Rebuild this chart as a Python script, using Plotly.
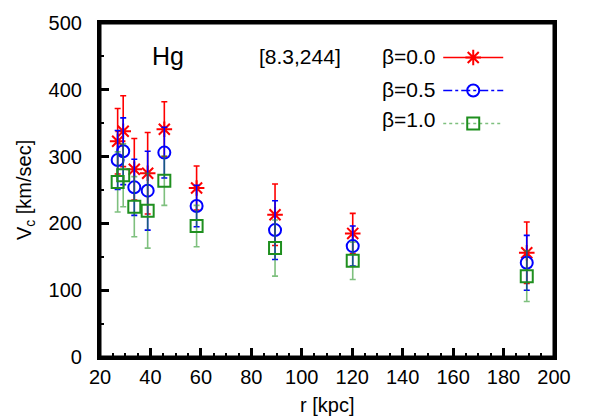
import plotly.graph_objects as go

# radius of each tracer bin [kpc]
r_kpc = [27.0, 29.2, 33.6, 38.9, 45.5, 58.3, 89.4, 120.2, 189.2]

# circular velocity for three anisotropy values [km/sec]
vc_b00 = [323, 338, 281, 275, 341, 253, 213, 185, 156]
err_b00 = [49, 53, 46, 61, 41, 33, 46, 30, 46]

vc_b05 = [295, 308, 254, 249, 306, 226, 190, 166, 141]
err_b05 = [44, 50, 42, 59, 38, 31, 44, 30, 41]

vc_b10 = [262, 272, 225, 219, 264, 196, 163, 144, 121]
err_b10 = [45, 47, 45, 56, 37, 31, 42, 28, 38]

labels = ["β=0.0", "β=0.5", "β=1.0"]

FONT = "Liberation Sans"

fig = go.Figure()

series = [
    (vc_b00, err_b00, "#ff0000", "#ff0000", "asterisk-open", 13, "solid"),
    (vc_b05, err_b05, "#0000ff", "#0000ff", "circle-open", 12, "dashdot"),
    (vc_b10, err_b10, "#1f8f1f", "rgba(40,150,40,0.6)", "square-open", 12, "dot"),
]

for i, ((vals, errs, col, ecol, sym, size, dash), name) in enumerate(zip(series, labels)):
    fig.add_trace(go.Scatter(
        x=r_kpc, y=vals, name=name, mode="markers", showlegend=False,
        marker=dict(symbol=sym, size=size, color=col,
                    line=dict(color=col, width=2)),
        error_y=dict(type="data", array=errs, visible=True,
                     color=ecol, thickness=1.6, width=3),
    ))
    # legend-only entry: line sample with marker, text drawn separately on the left
    fig.add_trace(go.Scatter(
        x=[None], y=[None], name=" ", mode="lines+markers",
        legendgroup=f"g{i}",
        line=dict(color=ecol, width=1.6, dash=dash),
        marker=dict(symbol=sym, size=size, color=col,
                    line=dict(color=col, width=2)),
    ))
    fig.add_annotation(text=name, xref="paper", yref="paper",
                       x=0.745, y=[0.901, 0.802, 0.710][i],
                       showarrow=False, xanchor="right", yanchor="middle",
                       font=dict(size=21, family=FONT, color="black"))

# page body adds an 8px offset, so the figure is a little smaller than the window
fig.update_layout(
    width=590, height=411,
    margin=dict(l=92, r=44, t=15, b=62, autoexpand=False),
    plot_bgcolor="white",
    font=dict(size=20, family=FONT, color="black"),
    showlegend=True,
    legend=dict(x=0.745, y=0.955, xanchor="left", yanchor="top",
                bgcolor="rgba(0,0,0,0)", font=dict(size=20),
                itemwidth=60, tracegroupgap=4),
)

fig.update_xaxes(
    range=[20, 200], dtick=20, tick0=20, automargin=False,
    showline=True, linecolor="black", linewidth=3, mirror=True,
    ticks="inside", ticklen=9, tickwidth=3, tickcolor="black",
    minor=dict(dtick=5, ticks="inside", ticklen=4, tickwidth=2, tickcolor="black"),
    gridcolor="rgba(0,0,0,0)",
)
fig.update_yaxes(
    range=[0, 500], dtick=100, automargin=False,
    showline=True, linecolor="black", linewidth=3, mirror=True,
    ticks="inside", ticklen=9, tickwidth=3, tickcolor="black",
    minor=dict(dtick=50, ticks="inside", ticklen=4, tickwidth=2, tickcolor="black"),
    gridcolor="rgba(0,0,0,0)", zerolinecolor="black", zerolinewidth=3,
    ticksuffix="  ",
)

# frame around the plotting area
fig.add_shape(type="rect", xref="paper", yref="paper", x0=0, y0=0, x1=1, y1=1,
              line=dict(color="black", width=3), layer="above")

# axis titles as text
fig.add_annotation(text="r [kpc]", xref="paper", yref="paper", x=0.5, y=-0.144,
                   showarrow=False, xanchor="center", yanchor="middle",
                   font=dict(size=20))
fig.add_annotation(text="V<sub>c</sub> [km/sec]", xref="paper", yref="paper",
                   x=-0.165, y=0.5, textangle=-90,
                   showarrow=False, xanchor="center", yanchor="middle",
                   font=dict(size=20))

fig.add_annotation(text="Hg", xref="paper", yref="paper", x=0.11, y=0.9,
                   showarrow=False, xanchor="left", yanchor="middle",
                   font=dict(size=25))
fig.add_annotation(text="[8.3,244]", xref="paper", yref="paper", x=0.345, y=0.9,
                   showarrow=False, xanchor="left", yanchor="middle",
                   font=dict(size=21))

fig.write_html("out.html")
